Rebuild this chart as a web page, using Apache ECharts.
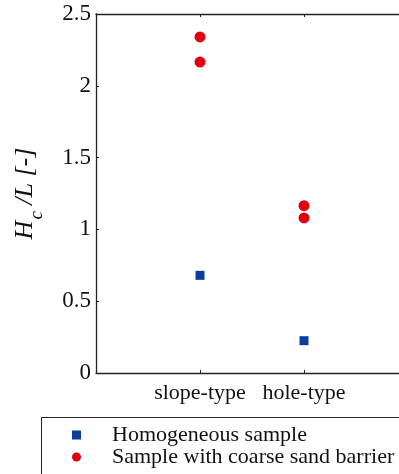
<!DOCTYPE html>
<html><head><meta charset="utf-8">
<script src="https://cdn.jsdelivr.net/npm/echarts@6/dist/echarts.min.js"></script>
<style>html,body{margin:0;padding:0;background:#fff}#c{width:399px;height:474px}</style>
</head><body><div id="c"></div>
<script>
const categories = ['', 'slope-type', 'hole-type', ''];
const homogeneousCats = ['slope-type', 'hole-type'];
const homogeneousVals = [0.68, 0.225];
const barrierCats = ['slope-type', 'slope-type', 'hole-type', 'hole-type'];
const barrierVals = [2.34, 2.165, 1.165, 1.08];
const yTicks = [0, 0.5, 1, 1.5, 2, 2.5];
const seriesNames = ['Homogeneous sample', 'Sample with coarse sand barrier'];

const FONT = 'Liberation Serif';
const chart = echarts.init(document.getElementById('c'), null, {renderer: 'canvas'});
const axisCommon = {
  type: 'category', data: categories, boundaryGap: false,
  axisLine: {lineStyle: {color: '#222', width: 1.3}},
  axisTick: {inside: true, length: 3, interval: 0, lineStyle: {color: '#222'}},
  splitLine: {show: false}
};
chart.setOption({
  animation: false,
  grid: {left: 96, top: 14, bottom: 101, right: -9, containLabel: false, outerBoundsMode: 'none'},
  graphic: [{
    type: 'polyline', silent: true,
    shape: {points: [[41.5, 560], [41.5, 417.5], [480, 417.5]]},
    style: {fill: null, stroke: '#222', lineWidth: 1}
  }],
  xAxis: [
    Object.assign({}, axisCommon, {position: 'bottom',
      axisLabel: {color: '#111', fontFamily: FONT, fontSize: 22, margin: 9, interval: 0, hideOverlap: false}}),
    Object.assign({}, axisCommon, {position: 'top', axisLabel: {show: false}})
  ],
  yAxis: [{
    type: 'value', min: 0, max: 2.5, interval: 0.5,
    axisLine: {show: true, lineStyle: {color: '#222', width: 1.3}},
    axisTick: {show: true, inside: true, length: 3, lineStyle: {color: '#222'}},
    splitLine: {show: false},
    axisLabel: {color: '#111', fontFamily: FONT, fontSize: 23, margin: 5,
      formatter: v => yTicks.indexOf(v) >= 0 ? String(v) : ''},
    name: '{i|H}{s|c}{i| /L [-]}',
    nameLocation: 'middle', nameGap: 50, nameRotate: 90,
    nameTextStyle: {
      rich: {
        i: {fontFamily: FONT, fontStyle: 'italic', fontSize: 26, color: '#111'},
        s: {fontFamily: FONT, fontStyle: 'italic', fontSize: 19, color: '#111', padding: [22, 0, 0, 1]}
      }
    }
  }],
  legend: {
    orient: 'vertical', left: 41, top: 417, height: 200,
    padding: [7, 40, 10, 31],
    itemWidth: 9, itemHeight: 9, itemGap: 0,
    textStyle: {fontFamily: FONT, fontSize: 22, lineHeight: 21, color: '#111', padding: [0, 0, 0, 26]},
    data: [
      {name: seriesNames[0], icon: 'rect'},
      {name: seriesNames[1], icon: 'circle'}
    ]
  },
  series: [
    {name: seriesNames[0], type: 'scatter', symbol: 'rect', symbolSize: 9,
     itemStyle: {color: '#0b3c9e', opacity: 1},
     data: homogeneousCats.map((c, i) => [c, homogeneousVals[i]])},
    {name: seriesNames[1], type: 'scatter', symbol: 'circle', symbolSize: 11,
     itemStyle: {color: '#e2000f', opacity: 1},
     data: barrierCats.map((c, i) => [c, barrierVals[i]])}
  ]
});
</script></body></html>
